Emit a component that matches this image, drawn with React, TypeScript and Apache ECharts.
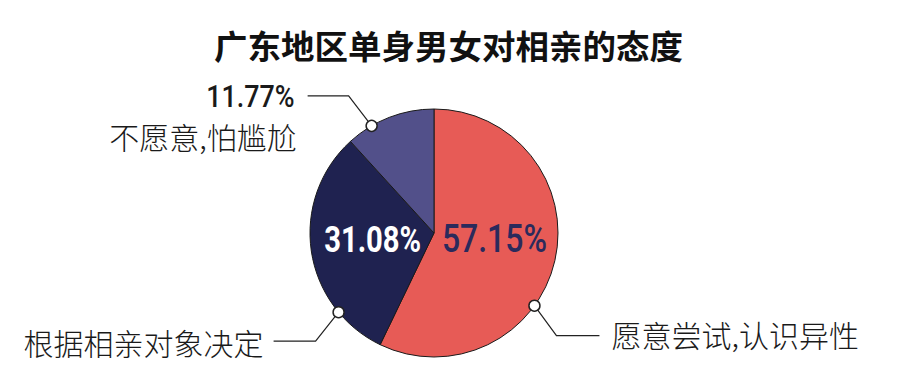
import React, { useEffect, useRef } from "react";
import * as echarts from "echarts";

const titleText = "广东地区单身男女对相亲的态度";
const categories = ["愿意尝试,认识异性", "根据相亲对象决定", "不愿意,怕尴尬"];
const values = [57.15, 31.08, 11.77];
const colors = ["#E75B56", "#1F2250", "#52508A"];

const W = 902;
const H = 388;
const CX = 434;
const CY = 233;
const R = 124;
const NUM_FONT = 'Roboto, "DejaVu Sans", sans-serif';
const CJK_FONT = '"Noto Sans CJK SC", "Noto Sans", sans-serif';

// annotation anchors: angle (deg, clockwise from 12 o'clock) on the pie edge
const anchorAngles = [125.9, 230.3, 329.8];

function anchor(i: number) {
  const a = (anchorAngles[i] * Math.PI) / 180;
  return [CX + R * Math.sin(a), CY - R * Math.cos(a)];
}

export default function App() {
  const ref = useRef<HTMLDivElement>(null);
  useEffect(() => {
    document.body.style.margin = "0";
    if (!ref.current) return;
    const chart = echarts.init(ref.current, undefined, { renderer: "svg" });

    const graphics: any[] = [];
    const pct = (v: number) => v.toFixed(2) + "%";
    const total = values.reduce((a, b) => a + b, 0);

    // inside percentage labels (for the two big slices), at slice mid-angle
    const insideStyle = [
      { size: 39, weight: 500, color: "#2B2A5C", scale: 0.82, dy: -8 },
      { size: 36.5, weight: 700, color: "#ffffff", scale: 0.8, dy: -3 },
    ];
    let acc = 0;
    values.forEach((v, i) => {
      const mid = ((acc + v / 2) / total) * 2 * Math.PI;
      acc += v;
      if (i > 1) return;
      const s = insideStyle[i];
      const x = CX + R * 0.5 * Math.sin(mid);
      const y = CY - R * 0.5 * Math.cos(mid) + s.dy;
      graphics.push({
        type: "text", z: 12, x, y, scaleX: s.scale,
        style: {
          text: pct(v),
          font: `${s.weight} ${s.size}px ${NUM_FONT}`,
          fill: s.color,
          textAlign: "center",
          textVerticalAlign: "middle",
        },
      });
    });

    const lineStyle = { stroke: "#222", lineWidth: 1.2, fill: null };
    const dotStyle = { fill: "#fff", stroke: "#222", lineWidth: 1.5 };
    const nameFont = `300 30px ${CJK_FONT}`;

    // red slice annotation (right)
    {
      const [ax, ay] = anchor(0);
      graphics.push({ type: "polyline", z: 10, shape: { points: [[ax, ay], [ax + 22, ay + 30], [ax + 65, ay + 30]] }, style: lineStyle });
      graphics.push({ type: "circle", z: 11, shape: { cx: ax, cy: ay, r: 5.5 }, style: dotStyle });
      graphics.push({
        type: "text", z: 11, x: ax + 77, y: ay + 28,
        style: { text: categories[0], font: nameFont, fill: "#1a1a1a", textAlign: "left", textVerticalAlign: "middle" },
      });
    }
    // navy slice annotation (bottom-left)
    {
      const [ax, ay] = anchor(1);
      graphics.push({ type: "polyline", z: 10, shape: { points: [[ax, ay], [ax - 23, ay + 29], [ax - 65, ay + 29]] }, style: lineStyle });
      graphics.push({ type: "circle", z: 11, shape: { cx: ax, cy: ay, r: 5.5 }, style: dotStyle });
      graphics.push({
        type: "text", z: 11, x: ax - 75, y: ay + 30,
        style: { text: categories[1], font: nameFont, fill: "#1a1a1a", textAlign: "right", textVerticalAlign: "middle" },
      });
    }
    // purple slice annotation (top-left)
    {
      const [ax, ay] = anchor(2);
      graphics.push({ type: "polyline", z: 10, shape: { points: [[ax, ay], [ax - 23, ay - 30], [ax - 64, ay - 30]] }, style: lineStyle });
      graphics.push({ type: "circle", z: 11, shape: { cx: ax, cy: ay, r: 5.5 }, style: dotStyle });
      graphics.push({
        type: "text", z: 11, x: ax - 77, y: ay - 30, scaleX: 0.84,
        style: { text: pct(values[2]), font: `500 32px ${NUM_FONT}`, fill: "#1a1a1a", textAlign: "right", textVerticalAlign: "middle" },
      });
      graphics.push({
        type: "text", z: 11, x: ax - 75, y: ay + 10,
        style: { text: categories[2], font: nameFont, fill: "#1a1a1a", textAlign: "right", textVerticalAlign: "middle" },
      });
    }

    chart.setOption({
      animation: false,
      title: {
        text: titleText,
        left: 209,
        top: 23,
        textStyle: { fontFamily: CJK_FONT, fontWeight: "bold", fontSize: 33.5, color: "#111" },
      },
      series: [
        {
          type: "pie",
          center: [CX, CY],
          radius: R,
          startAngle: 90,
          clockwise: true,
          itemStyle: { borderColor: "#1a1a1a", borderWidth: 1 },
          label: { show: false },
          labelLine: { show: false },
          data: categories.map((name, i) => ({
            name,
            value: values[i],
            itemStyle: { color: colors[i] },
          })),
        },
      ],
      graphic: graphics,
    });
    return () => chart.dispose();
  }, []);
  return <div ref={ref} style={{ width: W, height: H }} />;
}
